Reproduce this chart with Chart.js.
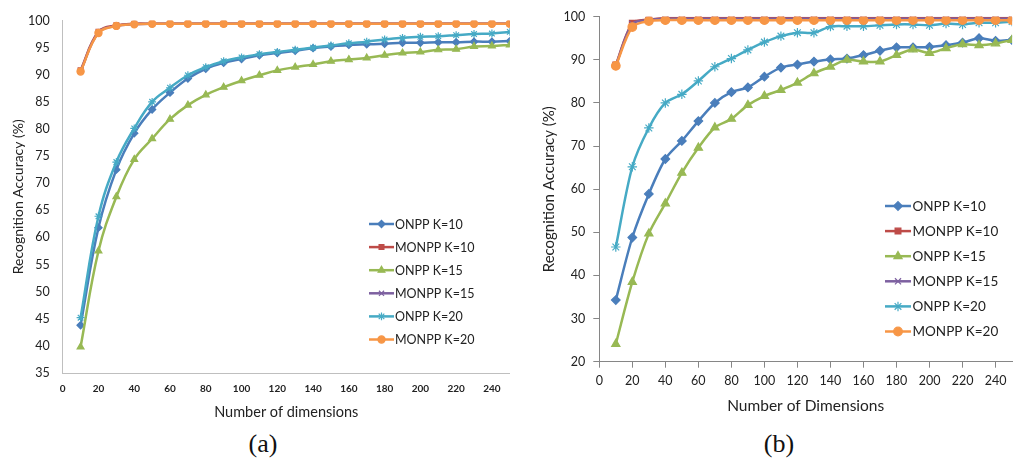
<!DOCTYPE html>
<html>
<head>
<meta charset="utf-8">
<script src="https://cdn.jsdelivr.net/npm/chart.js"></script>
<style>
  html, body { margin: 0; padding: 0; background: #fff; width: 1018px; height: 468px; overflow: hidden; }
  .panel { position: absolute; top: 0; }
  #panelA { left: 0; width: 515px; height: 425px; }
  #panelB { left: 520px; width: 498px; height: 425px; }
  .caption { position: absolute; top: 431px; font-family: 'Liberation Serif', 'DejaVu Serif', serif;
             font-size: 26px; line-height: 26px; color: #111; transform: translateX(-50%); white-space: nowrap; }
</style>
</head>
<body>
<div class="panel" id="panelA"><canvas id="chartA" width="515" height="425"></canvas></div>
<div class="panel" id="panelB"><canvas id="chartB" width="498" height="425"></canvas></div>
<div class="caption" style="left:263px">(a)</div>
<div class="caption" style="left:779px">(b)</div>
<script>
// Shared x values (number of dimensions) and axis tick labels
const dims = [10, 20, 30, 40, 50, 60, 70, 80, 90, 100, 110, 120, 130, 140, 150, 160, 170, 180, 190, 200, 210, 220, 230, 240, 250];
const xTickValues = [0, 20, 40, 60, 80, 100, 120, 140, 160, 180, 200, 220, 240];
const seriesNames = ['ONPP K=10', 'MONPP K=10', 'ONPP K=15', 'MONPP K=15', 'ONPP K=20', 'MONPP K=20'];

// Panel (a)
const aYTickValues = [35, 40, 45, 50, 55, 60, 65, 70, 75, 80, 85, 90, 95, 100];
const aOnppK10  = [43.8, 61.8, 72.5, 79.2, 83.6, 86.7, 89.3, 91.1, 92.2, 92.9, 93.6, 94.0, 94.4, 94.9, 95.2, 95.5, 95.6, 95.7, 95.9, 95.9, 96.0, 96.0, 96.1, 96.1, 96.2];
const aMonppK10 = [90.8, 97.9, 99.1, 99.4, 99.4, 99.4, 99.4, 99.4, 99.4, 99.4, 99.4, 99.4, 99.4, 99.4, 99.4, 99.4, 99.4, 99.4, 99.4, 99.4, 99.4, 99.4, 99.4, 99.4, 99.4];
const aOnppK15  = [39.8, 57.5, 67.5, 74.4, 78.2, 81.8, 84.4, 86.3, 87.7, 88.9, 89.9, 90.8, 91.4, 91.9, 92.5, 92.8, 93.1, 93.6, 94.0, 94.2, 94.6, 94.7, 95.2, 95.3, 95.5];
const aMonppK15 = [90.7, 97.8, 99.0, 99.3, 99.4, 99.4, 99.4, 99.4, 99.4, 99.4, 99.4, 99.4, 99.4, 99.4, 99.4, 99.4, 99.4, 99.4, 99.4, 99.4, 99.4, 99.4, 99.4, 99.4, 99.4];
const aOnppK20  = [45.2, 63.9, 73.9, 80.1, 85.0, 87.6, 89.9, 91.4, 92.5, 93.2, 93.8, 94.2, 94.6, 95.0, 95.4, 95.8, 96.1, 96.5, 96.8, 97.0, 97.1, 97.3, 97.5, 97.6, 97.9];
const aMonppK20 = [90.6, 97.7, 99.0, 99.3, 99.4, 99.4, 99.4, 99.4, 99.4, 99.4, 99.4, 99.4, 99.4, 99.4, 99.4, 99.4, 99.4, 99.4, 99.4, 99.4, 99.4, 99.4, 99.4, 99.4, 99.4];

// Panel (b)
const bYTickValues = [20, 30, 40, 50, 60, 70, 80, 90, 100];
const bOnppK10  = [34.3, 48.8, 58.9, 67.0, 71.2, 75.8, 80.0, 82.5, 83.6, 86.1, 88.2, 88.9, 89.6, 90.1, 90.3, 91.1, 92.1, 92.9, 92.9, 93.0, 93.4, 94.0, 95.0, 94.4, 94.6];
const bMonppK10 = [88.8, 98.5, 99.3, 99.7, 99.7, 99.7, 99.7, 99.7, 99.7, 99.7, 99.7, 99.7, 99.7, 99.7, 99.7, 99.7, 99.7, 99.7, 99.7, 99.7, 99.7, 99.7, 99.7, 99.7, 99.7];
const bOnppK15  = [24.1, 38.5, 49.7, 56.7, 63.8, 69.6, 74.3, 76.3, 79.5, 81.6, 83.0, 84.7, 86.9, 88.4, 90.0, 89.6, 89.6, 91.1, 92.4, 91.6, 92.7, 93.6, 93.4, 93.8, 94.6];
const bMonppK15 = [88.7, 98.3, 99.2, 99.5, 99.5, 99.5, 99.5, 99.5, 99.5, 99.5, 99.5, 99.5, 99.5, 99.5, 99.5, 99.5, 99.5, 99.5, 99.5, 99.5, 99.5, 99.5, 99.5, 99.5, 99.5];
const bOnppK20  = [46.6, 65.2, 74.2, 80.0, 82.0, 85.1, 88.4, 90.3, 92.3, 94.1, 95.5, 96.3, 96.3, 97.7, 97.8, 97.8, 98.0, 98.2, 98.2, 98.0, 98.4, 98.2, 98.6, 98.6, 98.9];
const bMonppK20 = [88.6, 97.6, 99.0, 99.2, 99.2, 99.2, 99.2, 99.2, 99.2, 99.2, 99.2, 99.2, 99.2, 99.2, 99.2, 99.2, 99.2, 99.2, 99.2, 99.2, 99.2, 99.2, 99.2, 99.2, 99.2];

// Line colour and marker shape of each series
const seriesStyles = [
  { color: '#4a7ebb', point: 'rectRot',   scale: 1.0 },
  { color: '#be4b48', point: 'rect',      scale: 0.95 },
  { color: '#98b954', point: 'triangle',  scale: 1.1 },
  { color: '#7d60a0', point: 'crossRot',  scale: 1.0 },
  { color: '#46aac5', point: 'star',      scale: 1.1 },
  { color: '#f79646', point: 'circle',    scale: 1.0 }
];

const FONT = "Lato, 'Open Sans', 'Liberation Sans', sans-serif";
const TEXT = '#222';

// Legend drawn inside the plot area, one row per series
const insetLegend = {
  id: 'insetLegend',
  afterDraw(chart, args, opts) {
    const ctx = chart.ctx;
    ctx.save();
    chart.data.datasets.forEach((ds, i) => {
      const y = opts.top + i * opts.rowGap;
      const x0 = opts.left, x1 = opts.left + opts.lineLength;
      ctx.strokeStyle = ds.borderColor;
      ctx.lineWidth = ds.borderWidth;
      ctx.beginPath(); ctx.moveTo(x0, y); ctx.lineTo(x1, y); ctx.stroke();
      ctx.fillStyle = ds.backgroundColor;
      ctx.lineWidth = ds.pointBorderWidth;
      if (Chart.helpers && Chart.helpers.drawPoint) {
        Chart.helpers.drawPoint(ctx, { pointStyle: ds.pointStyle, radius: ds.pointRadius, borderWidth: ds.pointBorderWidth, rotation: 0 }, (x0 + x1) / 2, y);
      } else {
        ctx.beginPath(); ctx.arc((x0 + x1) / 2, y, ds.pointRadius, 0, Math.PI * 2); ctx.fill();
      }
      ctx.fillStyle = opts.color;
      ctx.font = opts.font;
      ctx.textAlign = 'left';
      ctx.textBaseline = 'middle';
      ctx.fillText(ds.label, x1 + opts.textGap, y + 0.5);
    });
    ctx.restore();
  }
};

function buildChart(canvasId, cfg) {
  const datasets = cfg.series.map((vals, i) => ({
    label: seriesNames[i],
    data: dims.map((d, j) => ({ x: d, y: vals[j] })),
    borderColor: seriesStyles[i].color,
    backgroundColor: seriesStyles[i].color,
    pointStyle: seriesStyles[i].point,
    pointRadius: cfg.pointRadius * seriesStyles[i].scale,
    pointBorderWidth: 1.2,
    borderWidth: cfg.lineWidth,
    tension: cfg.tension,
    order: seriesNames.length - i
  }));

  const tickMarks = cfg.tickLength > 0
    ? { display: true, drawOnChartArea: false, drawTicks: true, tickLength: cfg.tickLength, color: cfg.axisColor, lineWidth: 1 }
    : { display: false, drawTicks: false };

  return new Chart(document.getElementById(canvasId), {
    type: 'line',
    data: { datasets },
    options: {
      responsive: false,
      animation: false,
      devicePixelRatio: 1,
      layout: { padding: cfg.padding },
      plugins: {
        legend: { display: false },
        tooltip: { enabled: false },
        insetLegend: cfg.legend
      },
      scales: {
        x: {
          type: 'linear', min: 0, max: 250,
          afterBuildTicks: s => { s.ticks = xTickValues.map(v => ({ value: v })); },
          afterFit: s => { s.height = cfg.xAxisHeight; },
          grid: tickMarks,
          border: { display: true, color: cfg.axisColor, width: 1 },
          ticks: { color: TEXT, font: cfg.xTickFont, padding: cfg.xTickPad, maxRotation: 0, autoSkip: false },
          title: { display: true, text: cfg.xTitle, color: TEXT, font: cfg.titleFontX, padding: { top: 0, bottom: cfg.xTitlePad } }
        },
        y: {
          type: 'linear', min: cfg.yTicks[0], max: cfg.yTicks[cfg.yTicks.length - 1],
          afterBuildTicks: s => { s.ticks = cfg.yTicks.map(v => ({ value: v })); },
          afterFit: s => { s.width = cfg.yAxisWidth; },
          grid: tickMarks,
          border: { display: true, color: cfg.axisColor, width: 1 },
          ticks: { color: TEXT, font: cfg.yTickFont, padding: cfg.yTickPad, autoSkip: false },
          title: { display: true, text: 'Recognition Accuracy (%)', color: TEXT, font: cfg.titleFontY, padding: { top: cfg.yTitlePad, bottom: 0 } }
        }
      }
    },
    plugins: [insetLegend]
  });
}

buildChart('chartA', {
  series: [aOnppK10, aMonppK10, aOnppK15, aMonppK15, aOnppK20, aMonppK20],
  yTicks: aYTickValues,
  xTitle: 'Number of dimensions',
  padding: { top: 13.5, right: 4.4, bottom: 0, left: 0 },
  yAxisWidth: 62.7,
  xAxisHeight: 52,
  axisColor: '#bfbfbf',
  tickLength: 0,
  xTickFont: { family: FONT, size: 10, weight: 'bold' },
  yTickFont: { family: FONT, size: 12.5 },
  xTickPad: 10,
  yTickPad: 13,
  titleFontX: { family: FONT, size: 14.5 },
  titleFontY: { family: FONT, size: 14 },
  xTitlePad: 4,
  yTitlePad: 10,
  pointRadius: 3.6,
  lineWidth: 2.5,
  tension: 0.4,
  legend: { left: 369, top: 224, rowGap: 23.1, lineLength: 25, textGap: 1, font: `12.5px ${FONT}`, color: TEXT }
});

buildChart('chartB', {
  series: [bOnppK10, bMonppK10, bOnppK15, bMonppK15, bOnppK20, bMonppK20],
  yTicks: bYTickValues,
  xTitle: 'Number of Dimensions',
  padding: { top: 16.7, right: 5, bottom: 0, left: 0 },
  yAxisWidth: 79.3,
  xAxisHeight: 63.3,
  axisColor: '#868686',
  tickLength: 6,
  xTickFont: { family: FONT, size: 12.5 },
  yTickFont: { family: FONT, size: 12.5 },
  xTickPad: 6,
  yTickPad: 8,
  titleFontX: { family: FONT, size: 15.5 },
  titleFontY: { family: FONT, size: 15 },
  xTitlePad: 10,
  yTitlePad: 20,
  pointRadius: 4.3,
  lineWidth: 2.5,
  tension: 0.3,
  legend: { left: 365, top: 206, rowGap: 25.1, lineLength: 26, textGap: 1.5, font: `13.5px ${FONT}`, color: TEXT }
});
</script>
</body>
</html>
